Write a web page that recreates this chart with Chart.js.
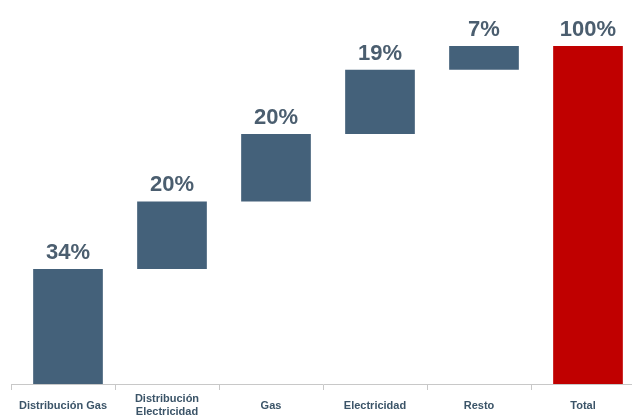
<!DOCTYPE html>
<html>
<head>
<meta charset="utf-8">
<script src="https://cdn.jsdelivr.net/npm/chart.js@4"></script>
<style>
  body { margin: 0; background: #fff; overflow: hidden; width: 632px; height: 416px; }
</style>
</head>
<body>
<canvas id="waterfall" width="635" height="416"></canvas>
<script>
const categories = [['Distribución Gas'], ['Distribución', 'Electricidad'], ['Gas'], ['Electricidad'], ['Resto'], ['Total']];
const shares = [34, 20, 20, 19, 7];
const totalShare = 100;

// floating ranges for the waterfall steps, then the total bar from zero
let running = 0;
const ranges = shares.map(v => {
    const r = [running, running + v];
    running += v;
    return r;
});
ranges.push([0, totalShare]);
const labels = shares.concat([totalShare]).map(v => v + '%');
const colors = shares.map(() => '#44617a').concat(['#c00000']);

// bars in the original sit a little right of the category centre
const barShift = 5;

const shiftBars = {
    id: 'shiftBars',
    beforeDatasetsDraw(chart) {
        chart.ctx.save();
        chart.ctx.translate(barShift, 0);
    },
    afterDatasetsDraw(chart) {
        chart.ctx.restore();
    }
};

const valueLabels = {
    id: 'valueLabels',
    afterDatasetsDraw(chart) {
        const ctx = chart.ctx;
        const meta = chart.getDatasetMeta(0);
        ctx.save();
        ctx.font = 'bold 22px "Liberation Sans", Arial, sans-serif';
        ctx.fillStyle = '#4b5e6f';
        ctx.textAlign = 'center';
        ctx.textBaseline = 'alphabetic';
        meta.data.forEach((bar, i) => {
            ctx.fillText(labels[i], bar.x + barShift, bar.y - 10);
        });
        ctx.restore();
    }
};

new Chart(document.getElementById('waterfall'), {
    type: 'bar',
    data: {
        labels: categories,
        datasets: [{
            data: ranges,
            backgroundColor: colors,
            borderSkipped: false,
            categoryPercentage: 1,
            barPercentage: 0.67
        }]
    },
    options: {
        responsive: false,
        animation: false,
        layout: { padding: { top: 46, left: 11, right: 0, bottom: 0 } },
        plugins: {
            legend: { display: false },
            tooltip: { enabled: false }
        },
        scales: {
            y: { display: false, min: 0, max: 100 },
            x: {
                afterFit(scale) { scale.height = 32; },
                grid: {
                    offset: true,
                    drawOnChartArea: false,
                    tickLength: 6,
                    color: '#c8c8c8'
                },
                border: { color: '#c8c8c8' },
                ticks: {
                    padding: 9,
                    crossAlign: 'center',
                    autoSkip: false,
                    maxRotation: 0,
                    color: '#3b5468',
                    font: { family: '"Liberation Sans", Arial, sans-serif', size: 11, weight: 'bold', lineHeight: 1.2 }
                }
            }
        }
    },
    plugins: [shiftBars, valueLabels]
});
</script>
</body>
</html>
